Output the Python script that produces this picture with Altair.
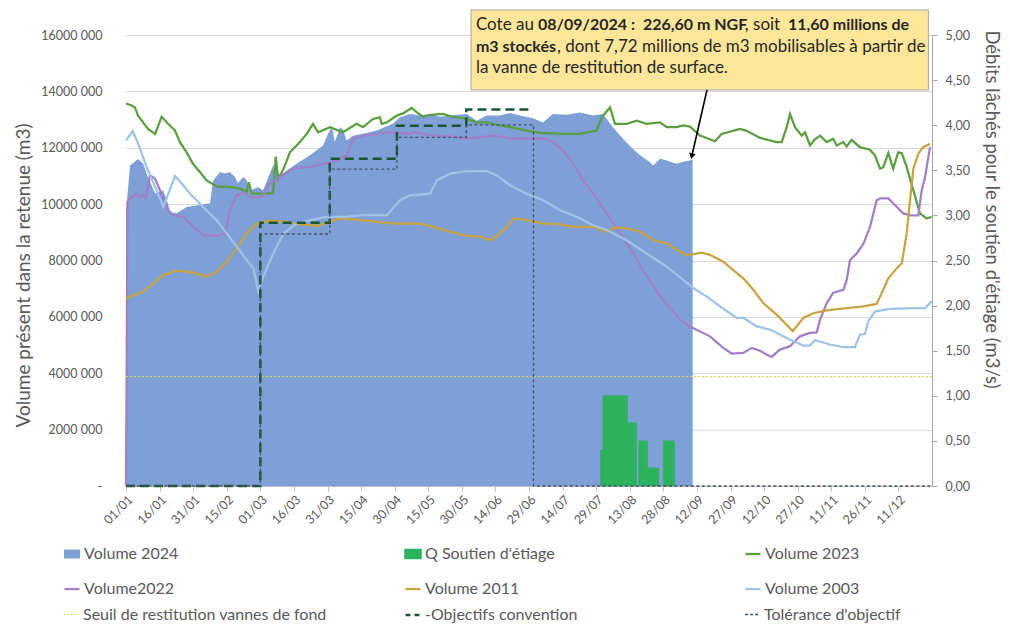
import altair as alt
import pandas as pd

FONT = "Lato"
GREY = "#595959"
BASE = pd.Timestamp("2024-01-01")

# ---------------- data : (days since 01/01/2024, millions of m3) ----------------
V2024 = [(0, 9.72), (1.8, 11.37), (5.4, 11.6), (7.6, 11.44), (9.8, 10.96), (13, 10.38),
         (16.5, 10.49), (18.3, 10.14), (19.7, 9.72), (22.6, 9.68), (27.1, 9.9), (37.5, 10.03),
         (38.9, 10.84), (42, 11.14), (44.2, 11.09), (46.4, 11.14), (48.7, 10.96), (50, 10.74),
         (52.3, 10.96), (54, 10.84), (55.4, 10.49), (59, 10.6), (61.2, 10.49), (63, 10.84),
         (65.7, 11.37), (67.4, 11.3), (68.8, 10.96), (71.9, 11.2), (76.4, 11.44), (82.2, 11.73),
         (88, 12.08), (90.2, 12.49), (92, 12.73), (93.3, 12.2), (95.6, 12.73), (96.9, 12.65),
         (98.6, 12.26), (101.4, 12.43), (105.8, 12.5), (112, 12.61), (119.2, 12.85), (122.4, 13.08),
         (126.8, 13.2), (131.3, 13.14), (135.8, 13.2), (140.2, 13.1), (144.7, 13.14), (152.2, 13.2),
         (156.6, 12.96), (161.1, 13.14), (167, 13.14), (171.5, 13.23), (176, 13.14), (181.8, 13.05),
         (186.2, 12.9), (190.7, 13.2), (196.8, 13.17), (202.8, 13.25), (208.6, 13.14), (213, 13.2),
         (217.5, 12.73), (222, 12.32), (226.4, 11.96), (229.6, 11.73), (234, 11.49), (235.4, 11.37),
         (238.5, 11.61), (241.5, 11.55), (246, 11.43), (248.8, 11.5), (251.9, 11.55), (253.1, 11.6)]

V2023 = [(0, 13.57), (2.5, 13.5), (4, 13.43), (5.4, 13.14), (7.6, 12.9), (9.8, 12.67), (13, 12.49),
         (15.9, 13.1), (18.8, 12.85), (21.9, 12.61), (24.1, 12.2), (27.1, 11.84), (29.9, 11.43),
         (33, 11.14), (36, 10.84), (40.5, 10.63), (46.4, 10.6), (50.9, 10.55), (53.9, 10.43),
         (54.9, 10.78), (56.1, 10.37), (61.2, 10.37), (65.7, 10.39), (66.9, 11.69), (67.9, 10.9),
         (70.1, 11.2), (73.2, 11.84), (77.7, 12.2), (80.7, 12.49), (83.5, 12.85), (85.8, 12.55),
         (91.1, 12.73), (96.9, 12.55), (103, 12.85), (105.9, 12.73), (110.3, 13.02), (113.4, 13.08),
         (114.2, 12.85), (116.4, 12.9), (120.9, 13.14), (123.7, 13.22), (127.6, 13.41), (129.8, 13.26),
         (132.6, 13.1), (135.8, 13.17), (141.6, 13.2), (146, 13.1), (152.2, 13.02), (156.6, 12.9),
         (161.1, 12.9), (167, 12.79), (171.5, 12.73), (179, 12.61), (184.9, 12.53), (193.8, 12.49),
         (202.8, 12.49), (210.2, 12.61), (212.5, 13.08), (216.2, 13.43), (218.4, 12.85), (223.6, 12.85),
         (228.1, 12.96), (232.5, 12.85), (238.5, 12.9), (241.5, 12.73), (246, 12.73), (248.8, 12.79),
         (251.9, 12.75), (256.4, 12.43), (263.1, 12.23), (266, 12.49), (274.2, 12.67), (277.2, 12.6),
         (283.2, 12.35), (290.6, 12.2), (292.9, 12.2), (295.1, 12.73), (296.6, 13.2), (298.8, 12.73),
         (301.8, 12.43), (303.3, 12.55), (305.5, 12.08), (307.7, 12.3), (310, 12.43), (313, 12.2),
         (315.9, 12.32), (317.4, 12.08), (320.4, 12.2), (321.9, 12.05), (324.1, 12.28), (327.8, 12.02),
         (332.3, 11.93), (334.5, 11.73), (336.8, 11.26), (338.2, 11.3), (340.5, 11.81), (342.7, 11.26),
         (344.9, 11.84), (346.5, 11.81), (348.7, 11.31), (351.7, 10.49), (354.6, 9.67), (357.6, 9.49),
         (359.8, 9.55)]

V2022 = [(0, 0), (0.7, 10.1), (1.8, 10.2), (4.8, 10.37), (6.3, 10.25), (7.6, 10.31), (8.9, 10.2),
         (10.7, 11.02), (13, 10.9), (15.2, 10.49), (18.9, 9.78), (21.1, 9.6), (25.6, 9.55),
         (30.1, 9.19), (34.5, 8.9), (40.5, 8.87), (44.2, 8.96), (46.4, 9.78), (49.4, 10.31),
         (52.4, 10.43), (55.4, 10.25), (58.4, 10.22), (61.3, 10.31), (64.3, 10.73), (67.3, 10.9),
         (73.2, 11.2), (76.2, 11.29), (82.2, 11.32), (88.1, 11.43), (94.1, 11.55), (98.6, 11.73),
         (101.5, 12.32), (106, 12.43), (112, 12.49), (117.9, 12.55), (126.8, 12.49), (128.2, 12.55),
         (137.1, 12.43), (144.7, 12.4), (152.2, 12.32), (158.1, 12.38), (164.1, 12.43), (171.5, 12.32),
         (179, 12.33), (186.4, 12.32), (190.8, 12.2), (195.3, 11.9), (199.8, 11.43), (204.2, 10.84),
         (208.7, 10.37), (214.7, 9.67), (220.6, 8.96), (226.6, 8.25), (232.6, 7.43), (240, 6.6),
         (247.4, 5.9), (251.9, 5.66), (260.8, 5.31), (266.8, 4.9), (270.5, 4.7), (275.7, 4.72),
         (279.5, 4.9), (283.2, 4.8), (286.2, 4.66), (288.4, 4.58), (292.1, 4.84), (296.6, 4.96),
         (301, 5.31), (305.5, 5.43), (308.5, 5.45), (310, 5.9), (313, 6.49), (315.9, 6.86),
         (320.4, 6.96), (321.9, 7.3), (323.4, 8.02), (326.4, 8.25), (329.4, 8.6), (332.3, 9.19),
         (335.3, 10.14), (336.8, 10.2), (340.5, 10.2), (344.3, 9.9), (347.2, 9.67), (350.2, 9.6),
         (353.9, 9.6), (355.4, 10.49), (356.9, 10.96), (359.1, 12.02)]

V2011 = [(0, 6.66), (7.7, 6.9), (12.2, 7.19), (16.7, 7.49), (22.6, 7.64), (30.1, 7.57), (36, 7.43),
         (40.5, 7.6), (45, 7.96), (49.4, 8.43), (53.9, 8.96), (58.4, 9.31), (64.3, 9.41), (70.3, 9.38),
         (76.2, 9.29), (85.2, 9.23), (91.1, 9.37), (95.6, 9.49), (103, 9.45), (112, 9.37), (119.4, 9.31),
         (131.3, 9.31), (137.3, 9.19), (144.7, 9.02), (152.2, 8.87), (158.1, 8.85), (162.6, 8.72),
         (165.6, 8.87), (170.1, 9.19), (173.1, 9.49), (179, 9.43), (186.4, 9.31), (192.4, 9.3),
         (199.8, 9.19), (208.7, 9.19), (214.7, 9.02), (218.4, 9.17), (223.6, 9.14), (229.6, 9.02),
         (235.5, 8.72), (241.5, 8.6), (247.4, 8.31), (250.4, 8.19), (253.4, 8.23), (257.1, 8.28),
         (260.8, 8.2), (266.8, 7.96), (271.2, 7.66), (275.7, 7.37), (280.2, 6.96), (284.6, 6.49),
         (290.6, 6.08), (295.1, 5.72), (297.8, 5.49), (302.5, 5.96), (307, 6.13), (313, 6.23),
         (321.9, 6.31), (329.3, 6.37), (335.3, 6.46), (337.5, 6.84), (340.5, 7.37), (344.2, 7.72),
         (346.5, 7.9), (348.7, 8.96), (350.2, 10.14), (351.7, 11.26), (353.9, 11.79), (356.1, 12.02),
         (359.1, 12.14)]

V2003 = [(0, 12.26), (3, 12.59), (5.5, 12.14), (9.2, 11.31), (13.7, 10.49), (16.7, 9.9), (18.9, 10.37),
         (21.9, 10.99), (24.9, 10.73), (28.6, 10.37), (34.5, 9.9), (40.5, 9.43), (45, 8.96), (49.4, 8.49),
         (53.9, 8.02), (56.9, 7.72), (59.1, 6.9), (61.3, 7.43), (65.8, 8.25), (70.3, 8.96), (76.2, 9.31),
         (82.2, 9.43), (89.6, 9.55), (97.1, 9.55), (104.5, 9.6), (112, 9.62), (116.4, 9.6), (122.4, 10.14),
         (126.8, 10.31), (135.8, 10.37), (138.8, 10.84), (144.7, 11.08), (152.2, 11.17), (161.1, 11.17),
         (165.6, 11.02), (171.5, 10.67), (179, 10.37), (186.4, 10.14), (193.8, 9.78), (201.3, 9.55),
         (208.7, 9.25), (214.7, 9.08), (223.6, 8.72), (232.6, 8.25), (241.5, 7.78), (248.9, 7.31),
         (253.4, 7.02), (259.4, 6.72), (265.3, 6.37), (272.8, 5.96), (275.7, 5.97), (281.7, 5.66),
         (287.6, 5.55), (296.6, 5.19), (302.5, 4.98), (305.5, 4.98), (307.7, 5.17), (314.4, 5.02),
         (320.4, 4.93), (325.6, 4.93), (327.8, 5.37), (330.1, 5.4), (331.5, 5.84), (334.5, 6.19),
         (341.2, 6.28), (351.6, 6.31), (356.9, 6.31), (359.9, 6.55)]

# daily low-water support flow (m3/s)
Q_DAY = [212, 213, 214, 215, 216, 217, 218, 219, 220, 221, 222, 223, 224, 225, 226, 227,
         229, 230, 231, 232, 233, 234, 235, 236, 237, 240, 241, 242, 243, 244]
Q_VAL = [0.40, 1.00, 1.00, 1.00, 1.00, 1.00, 1.00, 1.00, 1.00, 1.00, 1.00, 1.00, 0.70, 0.70, 0.70, 0.70,
         0.50, 0.50, 0.50, 0.50, 0.20, 0.20, 0.20, 0.20, 0.20, 0.50, 0.50, 0.50, 0.50, 0.50]

SEUIL_M = 3.88
SEUIL_SPAN = (0, 360)
OBJ = [(0, 0), (60, 9.34), (91, 11.61), (121, 12.78), (152, 13.36), (182, 13.36)]
TOL = [(0, 0), (60, 8.94), (91, 11.24), (121, 12.37), (152, 12.81), (182, 0), (360, 0)]

TICK_DAYS = [0, 15, 30, 45, 60, 75, 90, 105, 120, 135, 150, 165, 180, 195, 210, 225, 240,
             255, 270, 285, 300, 315, 330, 345]
X_END_DAY = 360

NAMES = ["Volume 2024", "Q Soutien d'étiage", "Volume 2023", "Volume2022", "Volume 2011",
         "Volume 2003", "Seuil de restitution vannes de fond", "-Objectifs convention",
         "Tolérance d'objectif"]
COLORS = ["#7EA0D6", "#2BB35B", "#5A9F3E", "#A17FC8", "#C9A33F", "#9DC3E6", "#F2C94C",
          "#1A5632", "#44546A"]

# annotation (segment start day, millions m3, text, bold)
ANN = [(156.3, 16.36, "Cote au", False),
       (184.0, 16.36, "08/09/2024 :\u00a0 226,60 m NGF", True),
       (276.4, 16.36, ", soit\u00a0", False),
       (295.7, 16.36, "11,60 millions de", True),
       (156.3, 15.57, "m3 stockés", True),
       (192.5, 15.57, ", dont 7,72 millions de m3 mobilisables à partir de", False),
       (156.3, 14.83, "la vanne de restitution de surface.", False)]
BOX = (154.1, 358.4, 14.05, 16.89)
ARROW = (259.5, 14.05, 252.7, 11.70)


# ---------------- helpers ----------------
def day(d):
    return BASE + pd.to_timedelta(d, unit="D")


def series_df(pairs, name):
    return pd.DataFrame({"date": [day(d) for d, _ in pairs],
                         "v": [m * 1e6 for _, m in pairs],
                         "s": name})


def dt(ts):
    return alt.DateTime(year=ts.year, month=ts.month, date=ts.day)


XSCALE = alt.Scale(domain=[dt(day(0)), dt(day(X_END_DAY))])
XAXIS = alt.Axis(values=[dt(day(d)) for d in TICK_DAYS], format="%d/%m", labelAngle=-45,
                 labelAlign="right", labelBaseline="top", labelFont=FONT, labelFontSize=12.5,
                 labelColor=GREY, labelPadding=2, labelOverlap=False, labelFlush=False,
                 domainColor="#bfbfbf", tickColor="#bfbfbf", tickSize=5, grid=False, title=None)
VSCALE = alt.Scale(domain=[0, 16e6], nice=False, zero=False)
QSCALE = alt.Scale(domain=[0, 5], nice=False, zero=False)

LEFT_AXIS = alt.Axis(orient="left", values=[i * 2e6 for i in range(9)],
                     labelExpr="datum.value == 0 ? '-\u00a0\u00a0' : (datum.value / 1000) + ' 000'",
                     grid=True, gridColor="#d9d9d9", domain=False, ticks=False, labelPadding=24,
                     labelFont=FONT, labelFontSize=12.5, labelColor=GREY,
                     title="Volume présent dans la retenue (m3)", titleFont=FONT, titleFontSize=19,
                     titleFontWeight="normal", titleColor=GREY, titleX=-103, titleY=240,
                     titleAngle=-90, titleAlign="center", titleBaseline="middle")
RIGHT_AXIS = alt.Axis(orient="right", values=[i * 0.5 for i in range(11)],
                      labelExpr="replace(format(datum.value, '.2f'), '.', ',')",
                      grid=False, domain=True, domainColor="#a6a6a6", ticks=True,
                      tickColor="#a6a6a6", tickSize=5, labelPadding=8,
                      labelFont=FONT, labelFontSize=12.5, labelColor=GREY,
                      title="Débits lâchés pour le soutien d'étiage (m3/s)", titleFont=FONT,
                      titleFontSize=18.5, titleFontWeight="normal", titleColor=GREY,
                      titleX=59, titleY=174, titleAngle=90, titleAlign="center",
                      titleBaseline="middle")

COLX = [-63, 278, 618]
ROWY = [510, 545, 571]
RECT_PATH = "M-1,-0.56H1V0.56H-1Z"


def legend(i, symbol, size, dash=None, sw=None):
    kw = dict(orient="none", legendX=COLX[i % 3], legendY=ROWY[i // 3], title=None,
              symbolType=symbol, symbolSize=size, labelFont=FONT, labelFontSize=16,
              labelColor=GREY, labelOffset=3, labelLimit=400, padding=0)
    if dash is not None:
        kw["symbolDash"] = dash
    if sw is not None:
        kw["symbolStrokeWidth"] = sw
    return alt.Legend(**kw)


def color(i, leg):
    return alt.Color("s:N", scale=alt.Scale(domain=[NAMES[i]], range=[COLORS[i]]), legend=leg)


def X(field="date"):
    return alt.X(field, type="temporal", scale=XSCALE, axis=XAXIS)


def YV(field="v", axis=None):
    return alt.Y(field, type="quantitative", scale=VSCALE, axis=axis)


layers = []

# Volume 2024 area
layers.append(alt.Chart(series_df(V2024, NAMES[0])).mark_area(opacity=1).encode(
    x=X(), y=YV(axis=LEFT_AXIS), color=color(0, legend(0, RECT_PATH, 256))))

# Q soutien d'étiage bars
qdf = pd.DataFrame({"date": [day(d) for d in Q_DAY], "date2": [day(d + 1) for d in Q_DAY],
                    "q": Q_VAL, "z": 0.0, "s": NAMES[1]})
layers.append(alt.Chart(qdf).mark_rect(opacity=1, stroke=COLORS[1], strokeWidth=0.6).encode(
    x=X(), x2="date2:T",
    y=alt.Y("q:Q", scale=QSCALE, axis=RIGHT_AXIS), y2="z:Q",
    color=color(1, legend(1, RECT_PATH, 256))))

# volume lines
for idx, pairs in [(2, V2023), (3, V2022), (4, V2011), (5, V2003)]:
    layers.append(alt.Chart(series_df(pairs, NAMES[idx])).mark_line(strokeWidth=2.25).encode(
        x=X(), y=YV(), color=color(idx, legend(idx, "stroke", 225, sw=2.25))))

# seuil
sdf = pd.DataFrame({"date": [day(SEUIL_SPAN[0])], "date2": [day(SEUIL_SPAN[1])],
                    "v": [SEUIL_M * 1e6], "s": NAMES[6]})
layers.append(alt.Chart(sdf).mark_rule(strokeWidth=1, strokeDash=[2, 2]).encode(
    x=X(), x2="date2:T", y=YV(), color=color(6, legend(6, "stroke", 225, dash=[2, 1.5], sw=1.2))))

# objectifs / tolérance
layers.append(alt.Chart(series_df(OBJ, NAMES[7])).mark_line(
    interpolate="step-after", strokeWidth=2.5, strokeDash=[9, 5]).encode(
    x=X(), y=YV(), color=color(7, legend(7, "stroke", 225, dash=[5, 4], sw=2.5))))
layers.append(alt.Chart(series_df(TOL, NAMES[8])).mark_line(
    interpolate="step-after", strokeWidth=1.3, strokeDash=[3, 2.5]).encode(
    x=X(), y=YV(), color=color(8, legend(8, "stroke", 225, dash=[3, 2], sw=1.3))))

# annotation box, text and arrow
bdf = pd.DataFrame({"d0": [day(BOX[0])], "d1": [day(BOX[1])], "v0": [BOX[2] * 1e6], "v1": [BOX[3] * 1e6]})
layers.append(alt.Chart(bdf).mark_rect(fill="#FFE699", stroke="#a6a6a6", strokeWidth=1).encode(
    x=X("d0"), x2="d1:T", y=YV("v0"), y2="v1:Q"))

for bold in (False, True):
    adf = pd.DataFrame({"date": [day(a[0]) for a in ANN if a[3] == bold],
                        "v": [a[1] * 1e6 for a in ANN if a[3] == bold],
                        "t": [a[2] for a in ANN if a[3] == bold]})
    layers.append(alt.Chart(adf).mark_text(
        align="left", baseline="middle", font=FONT, fontSize=16 if bold else 17, color="#262626",
        fontWeight="bold" if bold else "normal").encode(x=X(), y=YV(), text="t:N"))

rdf = pd.DataFrame({"d0": [day(ARROW[0])], "d1": [day(ARROW[2])],
                    "v0": [ARROW[1] * 1e6], "v1": [ARROW[3] * 1e6]})
layers.append(alt.Chart(rdf).mark_rule(color="black", strokeWidth=1.6).encode(
    x=X("d0"), x2="d1:T", y=YV("v0"), y2="v1:Q"))
layers.append(alt.Chart(rdf).mark_point(shape="triangle-down", filled=True, color="black",
                                         size=45, angle=13, opacity=1).encode(
    x=X("d1"), y=YV("v1")))

chart = alt.layer(*layers).resolve_scale(y="independent", color="independent").properties(
    width=806, height=451,
    autosize=alt.AutoSizeParams(type="none"),
    padding={"left": 118, "top": 27, "right": 70, "bottom": 138},
).configure_view(stroke="transparent")

chart.save("out.html", embed_options={"renderer": "svg", "actions": False})
